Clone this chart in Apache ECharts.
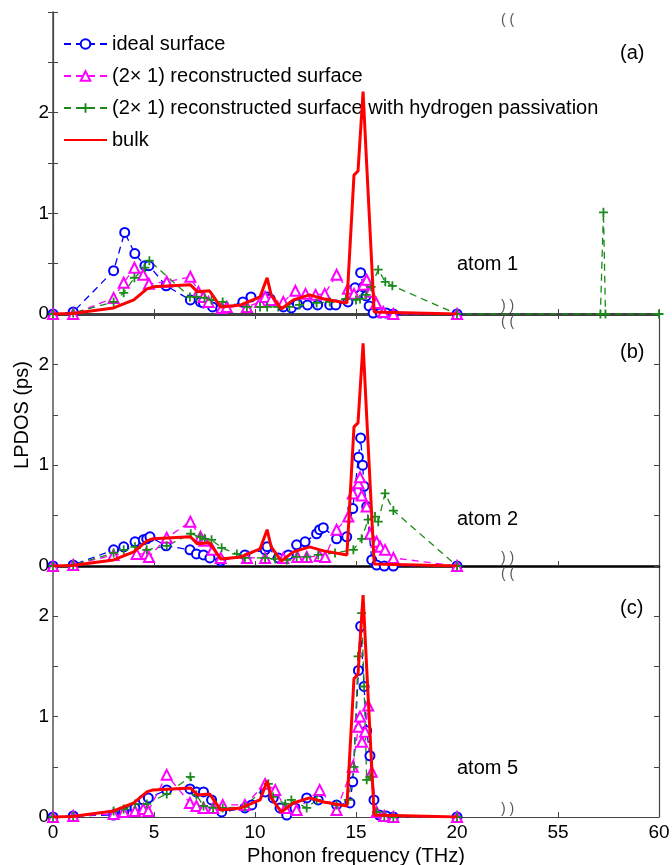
<!DOCTYPE html>
<html>
<head>
<meta charset="utf-8">
<script src="https://cdn.jsdelivr.net/npm/echarts@6/dist/echarts.min.js"></script>
<style>
html, body { margin: 0; padding: 0; background: #fff; }
#main { width: 672px; height: 865px; }
</style>
</head>
<body>
<div id="main"></div>
<script>
// series names
var names = [
  "ideal surface",
  "(2\u00d7 1) reconstructed surface",
  "(2\u00d7 1) reconstructed surface with hydrogen passivation",
  "bulk"
];
var panelTags = ["(a)", "(b)", "(c)"];
var atomTags = ["atom 1", "atom 2", "atom 5"];
var xTicks = [0, 5, 10, 15, 20, 55, 60];

// bulk (same in every panel)
var bulkX = [0, 1, 1.5, 3, 4, 4.65, 4.95, 6.8, 7.15, 7.75, 8.3, 9.3, 10.25, 10.6, 10.8, 11.3, 11.9, 12.7, 13.4, 14.55, 14.9, 15.1, 15.35, 15.5, 15.9, 20];
var bulkY = [0, 0.005, 0.02, 0.06, 0.14, 0.25, 0.27, 0.29, 0.22, 0.23, 0.07, 0.09, 0.17, 0.36, 0.19, 0.05, 0.14, 0.19, 0.15, 0.11, 1.38, 1.42, 2.21, 1.6, 0.02, 0];

// atom 1
var idealAX = [0, 1, 3, 3.55, 4.05, 4.55, 4.75, 5.6, 6.8, 7.3, 7.45, 7.9, 8.3, 9.4, 9.8, 10.6, 10.75, 11.4, 11.8, 12.1, 12.6, 13.1, 13.7, 14.0, 14.6, 14.95, 15.23, 15.36, 15.5, 15.65, 15.85, 16.2, 16.5, 16.85, 20];
var idealAY = [0, 0.02, 0.43, 0.81, 0.6, 0.48, 0.48, 0.28, 0.14, 0.12, 0.11, 0.07, 0.05, 0.12, 0.17, 0.17, 0.15, 0.07, 0.06, 0.1, 0.09, 0.09, 0.09, 0.09, 0.12, 0.26, 0.41, 0.27, 0.18, 0.08, 0.01, 0.01, 0.01, 0, 0];
var reconAX = [0, 1, 3, 3.5, 4.03, 4.47, 4.75, 5.63, 6.8, 7.2, 7.45, 7.7, 8.35, 8.6, 9.6, 10.25, 10.5, 10.8, 11.4, 12.0, 12.5, 13.0, 13.45, 14.04, 14.6, 14.9, 15.36, 15.53, 15.7, 16.0, 16.35, 16.85, 20];
var reconAY = [0, 0, 0.16, 0.31, 0.46, 0.39, 0.3, 0.32, 0.37, 0.22, 0.17, 0.12, 0.06, 0.07, 0.07, 0.12, 0.17, 0.14, 0.12, 0.23, 0.2, 0.19, 0.2, 0.39, 0.25, 0.2, 0.29, 0.34, 0.22, 0.11, 0.02, 0, 0];
var hydAX = [0, 1, 3, 3.5, 4.03, 4.55, 4.77, 6.78, 7.1, 7.5, 7.85, 8.4, 9.6, 10.25, 10.6, 11.15, 11.7, 12.2, 13.05, 13.7, 14.5, 15.0, 15.2, 15.5, 15.75, 16.1, 16.45, 16.8, 20, 57.1, 57.25, 57.35, 60];
var hydAY = [0, 0.01, 0.12, 0.21, 0.36, 0.46, 0.53, 0.17, 0.17, 0.16, 0.14, 0.12, 0.07, 0.07, 0.07, 0.07, 0.07, 0.09, 0.11, 0.12, 0.15, 0.14, 0.15, 0.19, 0.27, 0.44, 0.32, 0.28, 0, 0, 1.01, 0, 0];

// atom 2
var idealBX = [0, 1, 3, 3.5, 4.06, 4.47, 4.64, 4.8, 5.6, 6.78, 7.1, 7.45, 7.77, 8.3, 9.5, 10.5, 10.6, 11.15, 11.65, 12.06, 12.48, 13.05, 13.2, 13.38, 14.04, 14.54, 14.84, 15.12, 15.23, 15.33, 15.4, 15.53, 15.78, 16.02, 16.4, 16.85, 20];
var idealBY = [0, 0.01, 0.16, 0.19, 0.24, 0.26, 0.27, 0.29, 0.2, 0.16, 0.12, 0.11, 0.08, 0.05, 0.11, 0.16, 0.19, 0.08, 0.11, 0.21, 0.24, 0.32, 0.36, 0.38, 0.27, 0.29, 0.57, 1.08, 1.27, 1.0, 0.79, 0.59, 0.06, 0.01, 0, 0, 0];
var reconBX = [0, 1, 3, 4.14, 4.6, 4.75, 5.63, 6.8, 7.3, 7.5, 7.9, 8.3, 9.6, 10.5, 11.4, 12.1, 12.56, 13.2, 13.47, 14.04, 14.62, 14.84, 15.12, 15.2, 15.28, 15.53, 15.7, 16.02, 16.2, 16.44, 16.85, 20];
var reconBY = [0, 0.01, 0.11, 0.12, 0.12, 0.09, 0.28, 0.44, 0.29, 0.25, 0.16, 0.08, 0.08, 0.08, 0.08, 0.09, 0.09, 0.1, 0.09, 0.36, 0.49, 0.72, 0.82, 0.88, 0.7, 0.59, 0.32, 0.24, 0.19, 0.16, 0.08, 0];
var hydBX = [0, 1, 3, 3.5, 4.06, 4.64, 5.63, 6.82, 7.28, 7.52, 7.85, 8.35, 9.1, 9.5, 10.5, 11.0, 11.57, 12.06, 12.56, 13.13, 13.96, 14.87, 15.28, 15.6, 15.94, 16.1, 16.44, 16.85, 20];
var hydBY = [0, 0.01, 0.13, 0.16, 0.19, 0.16, 0.2, 0.32, 0.29, 0.27, 0.26, 0.18, 0.12, 0.08, 0.08, 0.07, 0.06, 0.09, 0.09, 0.11, 0.13, 0.16, 0.27, 0.46, 0.49, 0.44, 0.72, 0.55, 0];

// atom 5
var idealCX = [0, 1, 3, 3.5, 4.06, 4.47, 4.72, 5.63, 6.78, 7.1, 7.45, 7.85, 8.35, 9.5, 9.84, 10.5, 10.9, 11.24, 11.57, 11.98, 12.56, 13.13, 14.04, 14.7, 14.84, 15.12, 15.23, 15.4, 15.53, 15.69, 15.89, 16.15, 16.5, 16.85, 20];
var idealCY = [0, 0.01, 0.02, 0.05, 0.09, 0.17, 0.19, 0.27, 0.28, 0.25, 0.25, 0.17, 0.05, 0.09, 0.12, 0.25, 0.19, 0.09, 0.02, 0.09, 0.19, 0.17, 0.12, 0.14, 0.35, 1.46, 1.9, 1.3, 0.86, 0.61, 0.17, 0.02, 0.01, 0, 0];
var reconCX = [0, 1, 3, 3.5, 4.06, 4.47, 4.72, 5.63, 6.78, 7.1, 7.45, 7.93, 8.4, 9.5, 10.5, 11.0, 11.5, 12.06, 13.2, 14.04, 14.84, 15.12, 15.2, 15.3, 15.45, 15.6, 15.78, 16.02, 16.4, 16.85, 20];
var reconCY = [0, 0.01, 0.03, 0.05, 0.06, 0.08, 0.06, 0.42, 0.14, 0.11, 0.09, 0.09, 0.12, 0.12, 0.33, 0.27, 0.09, 0.07, 0.27, 0.07, 0.5, 0.9, 1.0, 0.75, 0.85, 1.11, 0.45, 0.05, 0.01, 0, 0];
var hydCX = [0, 1, 3, 3.5, 4.06, 4.64, 5.63, 6.8, 7.1, 7.45, 7.93, 8.4, 9.5, 10.66, 10.9, 11.5, 11.8, 12.56, 13.05, 14.04, 14.62, 14.9, 15.1, 15.28, 15.4, 15.53, 15.7, 16.02, 16.4, 16.85, 20];
var hydCY = [0, 0.01, 0.06, 0.08, 0.13, 0.13, 0.23, 0.4, 0.22, 0.11, 0.09, 0.09, 0.1, 0.33, 0.2, 0.13, 0.17, 0.09, 0.17, 0.12, 0.17, 0.5, 1.6, 2.03, 1.3, 0.37, 0.4, 0.05, 0.01, 0, 0];

// frequencies above the break are shifted left so 55..60 sit right after 20
function brk(f) { return f <= 20 ? f : f - 30; }
function unbrk(v) { return v <= 20 ? v : v + 30; }
function pts(xs, ys) {
  return xs.map(function (x, i) { return [brk(x), ys[i]]; });
}

var panels = [
  [[idealAX, idealAY], [reconAX, reconAY], [hydAX, hydAY], [bulkX, bulkY]],
  [[idealBX, idealBY], [reconBX, reconBY], [hydBX, hydBY], [bulkX, bulkY]],
  [[idealCX, idealCY], [reconCX, reconCY], [hydCX, hydCY], [bulkX, bulkY]]
];

var FONT = '"Liberation Sans", Arial, sans-serif';
var PLUS = "path://M4,0h2v4h4v2h-4v4h-2v-4h-4v-2h4z";
var looks = [
  { color: "#0000ff", symbol: "emptyCircle", size: 9, dash: [7, 5], width: 1.3 },
  { color: "#ff00ff", symbol: "emptyTriangle", size: 10, dash: [7, 5], width: 1.3 },
  { color: "#1a8a1a", symbol: PLUS, size: 9, dash: [7, 5], width: 1.3 },
  { color: "#ff0000", symbol: "none", size: 0, dash: "solid", width: 3 }
];

var gridTop = [12, 314, 566];
var gridH = [302, 252, 251];
var yMax = [3, 2.5, 2.5];

var grids = [], xAxes = [], yAxes = [], series = [];
for (var g = 0; g < 3; g++) {
  grids.push({ left: 53, width: 606, top: gridTop[g], height: gridH[g], outerBoundsMode: "none", containLabel: false });
  xAxes.push({
    gridIndex: g, type: "value", min: 0, max: 30, interval: 5, position: "bottom",
    axisLine: { lineStyle: g < 2 ? { color: "#000", width: 2.5 } : { color: "#444", width: 1.2 } },
    axisTick: { inside: true, length: 5, lineStyle: { color: "#444" } },
    axisLabel: {
      show: g === 2, color: "#000", fontSize: 19, fontFamily: FONT, margin: 6,
      formatter: function (v) { return String(unbrk(v)); }
    },
    splitLine: { show: false },
    name: g === 2 ? "Phonon frequency (THz)" : "",
    nameLocation: "middle", nameGap: 29,
    nameTextStyle: { color: "#000", fontSize: 20, fontFamily: FONT }
  });
}
// top frame of panel (a)
xAxes.push({
  gridIndex: 0, type: "value", min: 0, max: 30, interval: 5, position: "top",
  axisLine: { lineStyle: { color: "#444", width: 1.2 } },
  axisTick: { inside: true, length: 5, lineStyle: { color: "#444" } },
  axisLabel: { show: false }, splitLine: { show: false }
});
for (var g = 0; g < 3; g++) {
  (function (m) {
    yAxes.push({
      gridIndex: g, type: "value", min: 0, max: m, interval: 0.5, position: "left",
      axisLine: { show: true, lineStyle: { color: "#555", width: 1.5 } },
      axisTick: { inside: true, length: 5, lineStyle: { color: "#444" } },
      axisLabel: {
        color: "#000", fontSize: 19, fontFamily: FONT, margin: 4,
        formatter: function (v) { return (v % 1 === 0 && v < m) ? String(v) : ""; }
      },
      splitLine: { show: false }
    });
  })(yMax[g]);
}
for (var g = 0; g < 3; g++) {
  yAxes.push({
    gridIndex: g, type: "value", min: 0, max: yMax[g], interval: 0.5, position: "right",
    axisLine: { show: true, lineStyle: { color: "#444", width: 1.2 } },
    axisTick: { inside: true, length: 5, lineStyle: { color: "#444" } },
    axisLabel: { show: false }, splitLine: { show: false }
  });
}

for (var g = 0; g < 3; g++) {
  for (var s = 0; s < 4; s++) {
    var lk = looks[s];
    series.push({
      name: names[s], type: "line", xAxisIndex: g, yAxisIndex: g,
      data: pts(panels[g][s][0], panels[g][s][1]),
      symbol: lk.symbol, symbolSize: lk.size, showSymbol: lk.symbol !== "none",
      lineStyle: { color: lk.color, width: lk.width, type: lk.dash },
      itemStyle: { color: lk.color, borderColor: lk.color, borderWidth: lk.symbol === PLUS ? 0 : 1.3 },
      z: s === 3 ? 4 : 3,
      silent: true
    });
  }
}

var chart = echarts.init(document.getElementById("main"));
chart.setOption({
  animation: false,
  backgroundColor: "#fff",
  grid: grids,
  xAxis: xAxes,
  yAxis: yAxes,
  legend: {
    data: [names[0], names[1], names[2], { name: names[3], itemStyle: { opacity: 0 } }],
    orient: "vertical", left: 58, top: 29,
    itemWidth: 43, itemHeight: 12, itemGap: 12,
    textStyle: { color: "#000", fontSize: 20, fontFamily: FONT },
    selectedMode: false
  },
  series: series
});

// panel tags, atom tags, axis break marks
var tagY = [53, 352, 608];
var atomY = [264, 519, 768];
var gfx = [];
for (var g = 0; g < 3; g++) {
  gfx.push({ type: "text", x: 620, y: tagY[g], style: { text: panelTags[g], fill: "#000", font: "20px " + FONT, textVerticalAlign: "middle" } });
  gfx.push({ type: "text", x: 457, y: atomY[g], style: { text: atomTags[g], fill: "#000", font: "20px " + FONT, textVerticalAlign: "middle" } });
  var bot = chart.convertToPixel({ xAxisIndex: g, yAxisIndex: g }, [22.5, 0]);
  gfx.push({ type: "text", x: bot[0], y: gridTop[g] + 1, z: 10, style: { text: "( (", fill: "#555", font: "14px " + FONT, textAlign: "center", textVerticalAlign: "top" } });
  gfx.push({ type: "text", x: bot[0], y: bot[1] - 1, z: 10, style: { text: ") )", fill: "#555", font: "14px " + FONT, textAlign: "center", textVerticalAlign: "bottom" } });
}
gfx.push({
  type: "text", x: 22, y: 415, rotation: Math.PI / 2, z: 10,
  style: { text: "LPDOS (ps)", fill: "#000", font: "20px " + FONT, textAlign: "center", textVerticalAlign: "middle" }
});
chart.setOption({ graphic: gfx });

window.addEventListener("resize", function () {
  chart.resize();
});
</script>
</body>
</html>
